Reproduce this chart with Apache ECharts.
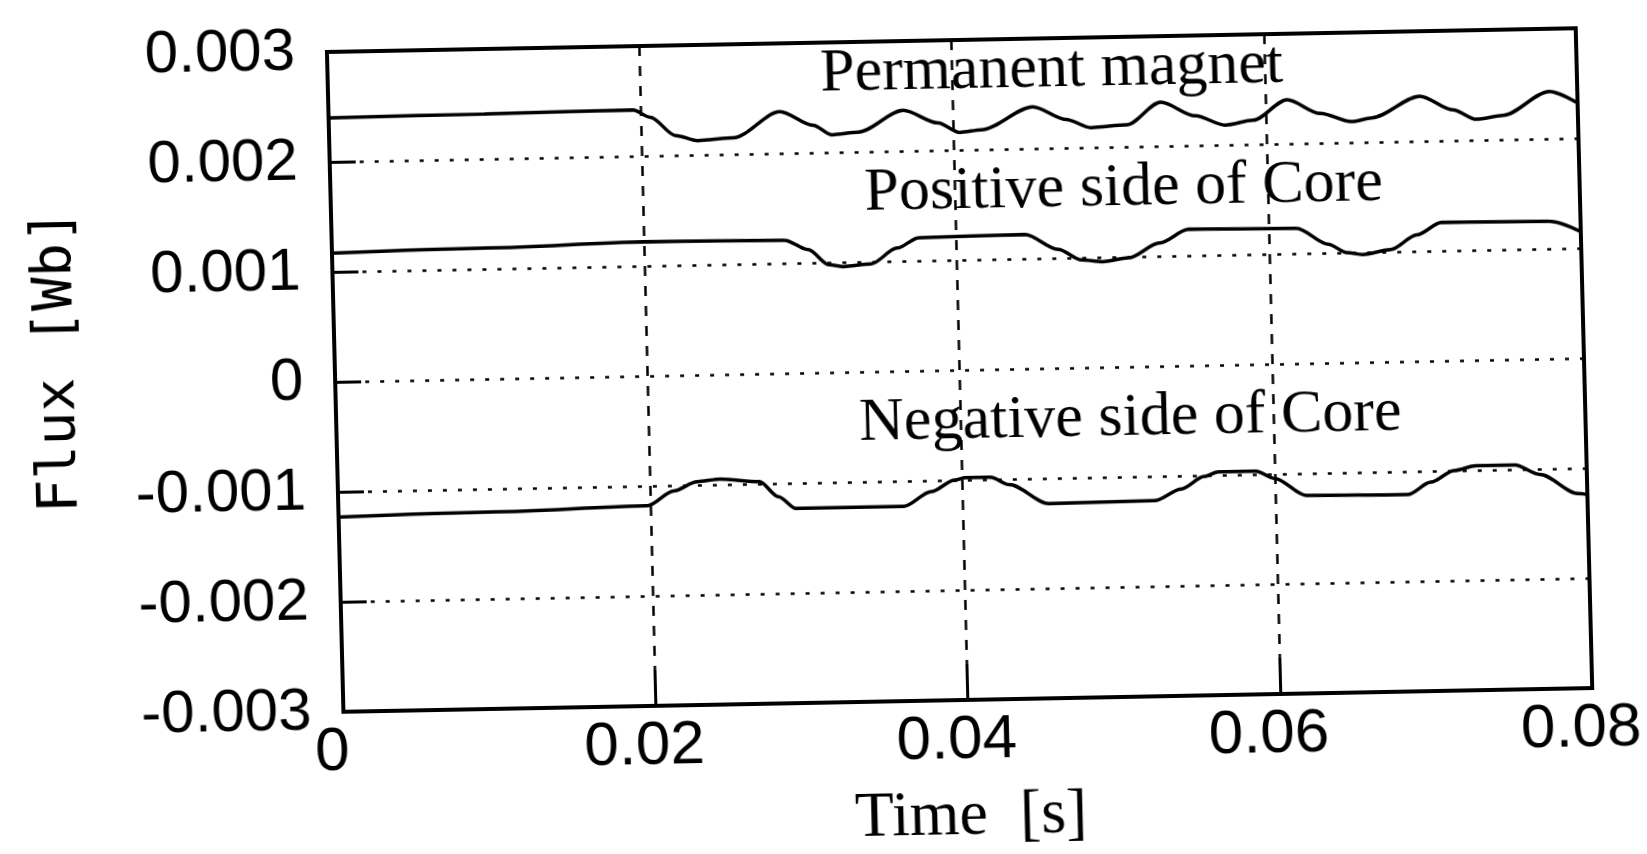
<!DOCTYPE html>
<html>
<head>
  <meta charset="utf-8">
  <title>Flux</title>
  <script src="https://cdn.jsdelivr.net/npm/echarts@6/dist/echarts.min.js"></script>
  <style type="text/css">
    body {
      margin: 0;
      padding: 0;
      overflow: hidden;
      background: #fff;
    }
    .chart-box {
      width: 1647px;
      height: 900px;
      /* the scan is slightly rotated / skewed */
      transform-origin: 327px 52px;
      transform: matrix(1, -0.019, 0.025, 1, 0, 0);
    }
  </style>
</head>
<body>
<div id="main" class="chart-box"></div>
<script>
// tick labels
const xTicks = [0, 0.02, 0.04, 0.06, 0.08];
const yTicks = [-0.003, -0.002, -0.001, 0, 0.001, 0.002, 0.003];

// Permanent magnet (time s, flux Wb)
const pmTime = [0, 0.01, 0.0195, 0.0206, 0.0222, 0.0236, 0.0259, 0.0289, 0.031, 0.0322, 0.0339, 0.0368, 0.039, 0.0404, 0.0418,
  0.0451, 0.0472, 0.0488, 0.0511, 0.0533, 0.0555, 0.0574, 0.0592, 0.0614, 0.0635, 0.0655, 0.0668, 0.0699, 0.072, 0.0735,
  0.0752, 0.0782, 0.08];
const pmFlux = [0.00240, 0.00241, 0.00242, 0.00235, 0.00218, 0.00213, 0.00215, 0.00238, 0.00225, 0.00216, 0.00218, 0.00237,
  0.00225, 0.00216, 0.00218, 0.00238, 0.00226, 0.00218, 0.00220, 0.00240, 0.00227, 0.00218, 0.00222, 0.00240, 0.00227,
  0.00219, 0.00222, 0.00241, 0.00228, 0.00219, 0.00222, 0.00243, 0.00232];

// Positive side of Core
const posTime = [0, 0.01, 0.02, 0.029, 0.0305, 0.0318, 0.0327, 0.0345, 0.0362, 0.0376, 0.0444, 0.0465, 0.048, 0.0493, 0.051,
  0.053, 0.0549, 0.0618, 0.0638, 0.065, 0.066, 0.0678, 0.0695, 0.0711, 0.078, 0.08];
const posFlux = [0.00117, 0.00119, 0.00122, 0.00121, 0.00112, 0.00098, 0.00096, 0.00098, 0.00112, 0.00121, 0.00122, 0.00108,
  0.00098, 0.00096, 0.00099, 0.00112, 0.00124, 0.00123, 0.00108, 0.00100, 0.00098, 0.00102, 0.00115, 0.00126, 0.00125,
  0.00115];

// Negative side of Core
const negTime = [0, 0.01, 0.0198, 0.0215, 0.023, 0.0245, 0.027, 0.0282, 0.0293, 0.0362, 0.038, 0.0395, 0.0402, 0.0418, 0.043,
  0.0455, 0.0523, 0.054, 0.0555, 0.0564, 0.0588, 0.06, 0.062, 0.0685, 0.07, 0.0715, 0.0729, 0.0754, 0.077, 0.0794, 0.08];
const negFlux = [-0.00123, -0.00121, -0.00118, -0.00105, -0.00097, -0.00095, -0.00098, -0.00112, -0.00123, -0.00123,
  -0.00110, -0.00100, -0.00098, -0.00098, -0.00105, -0.00123, -0.00122, -0.00112, -0.00101, -0.00097, -0.00097, -0.00104,
  -0.00120, -0.00121, -0.00110, -0.00100, -0.00096, -0.00096, -0.00105, -0.00123, -0.00124];

const pair = (xs, ys) => xs.map((x, i) => [x, ys[i]]);

const serif = '"Liberation Serif", "Times New Roman", serif';
const sans = '"Liberation Sans", Arial, sans-serif';

const lineSeries = (name, xs, ys) => ({
  name: name,
  type: 'line',
  data: pair(xs, ys),
  showSymbol: false,
  smooth: 0.3,
  smoothMonotone: 'x',
  lineStyle: {color: '#000', width: 3.5},
  animation: false,
});

const myChart = echarts.init(document.getElementById('main'));
myChart.setOption({
  backgroundColor: '#fff',
  animation: false,
  grid: {
    left: 327, top: 52, width: 1249, height: 660,
    show: true, borderColor: '#000', borderWidth: 4,
  },
  xAxis: {
    type: 'value',
    min: 0, max: 0.08, interval: 0.02,
    axisLine: {onZero: false, lineStyle: {color: '#000', width: 4}},
    axisTick: {inside: true, length: 36, lineStyle: {color: '#000', width: 3}},
    axisLabel: {
      color: '#000', fontFamily: sans, fontSize: 62, margin: 10,
      padding: [0, 24, 0, 0],
      formatter: v => (xTicks.indexOf(v) >= 0 ? String(v) : ''),
    },
    splitLine: {show: true, lineStyle: {color: '#000', width: 2.5, type: [10, 10]}},
  },
  yAxis: {
    type: 'value',
    min: -0.003, max: 0.003, interval: 0.001,
    axisLine: {onZero: false, lineStyle: {color: '#000', width: 4}},
    axisTick: {inside: true, length: 26, lineStyle: {color: '#000', width: 3}},
    axisLabel: {
      color: '#000', fontFamily: sans, fontSize: 60, margin: 32,
      padding: [0, 0, 20, 0],
      formatter: v => {
        const t = yTicks.find(k => Math.abs(k - v) < 1e-9);
        return t === undefined ? '' : (t === 0 ? '0' : t.toFixed(3));
      },
    },
    splitLine: {show: true, lineStyle: {color: '#000', width: 2.5, type: [4, 11]}},
  },
  series: [
    lineSeries('Permanent magnet', pmTime, pmFlux),
    lineSeries('Positive side of Core', posTime, posFlux),
    lineSeries('Negative side of Core', negTime, negFlux),
  ],
  graphic: [
    {type: 'text', x: 1051, y: 84, style: {text: 'Permanent magnet', font: '62px ' + serif, fill: '#000', align: 'center', verticalAlign: 'middle'}},
    {type: 'text', x: 1120, y: 204, style: {text: 'Positive side of Core', font: '62px ' + serif, fill: '#000', align: 'center', verticalAlign: 'middle'}},
    {type: 'text', x: 1121, y: 434, style: {text: 'Negative side of Core', font: '62px ' + serif, fill: '#000', align: 'center', verticalAlign: 'middle'}},
    {type: 'text', x: 952, y: 829, style: {text: 'Time  [s]', font: '64px ' + serif, fill: '#000', align: 'center', verticalAlign: 'middle'}},
    {type: 'text', x: 50, y: 356, rotation: Math.PI / 2, style: {text: 'Flux [Wb]', font: '56px "DejaVu Sans Mono", monospace', fill: '#000', align: 'center', verticalAlign: 'middle'}},
  ],
});
</script>
</body>
</html>
